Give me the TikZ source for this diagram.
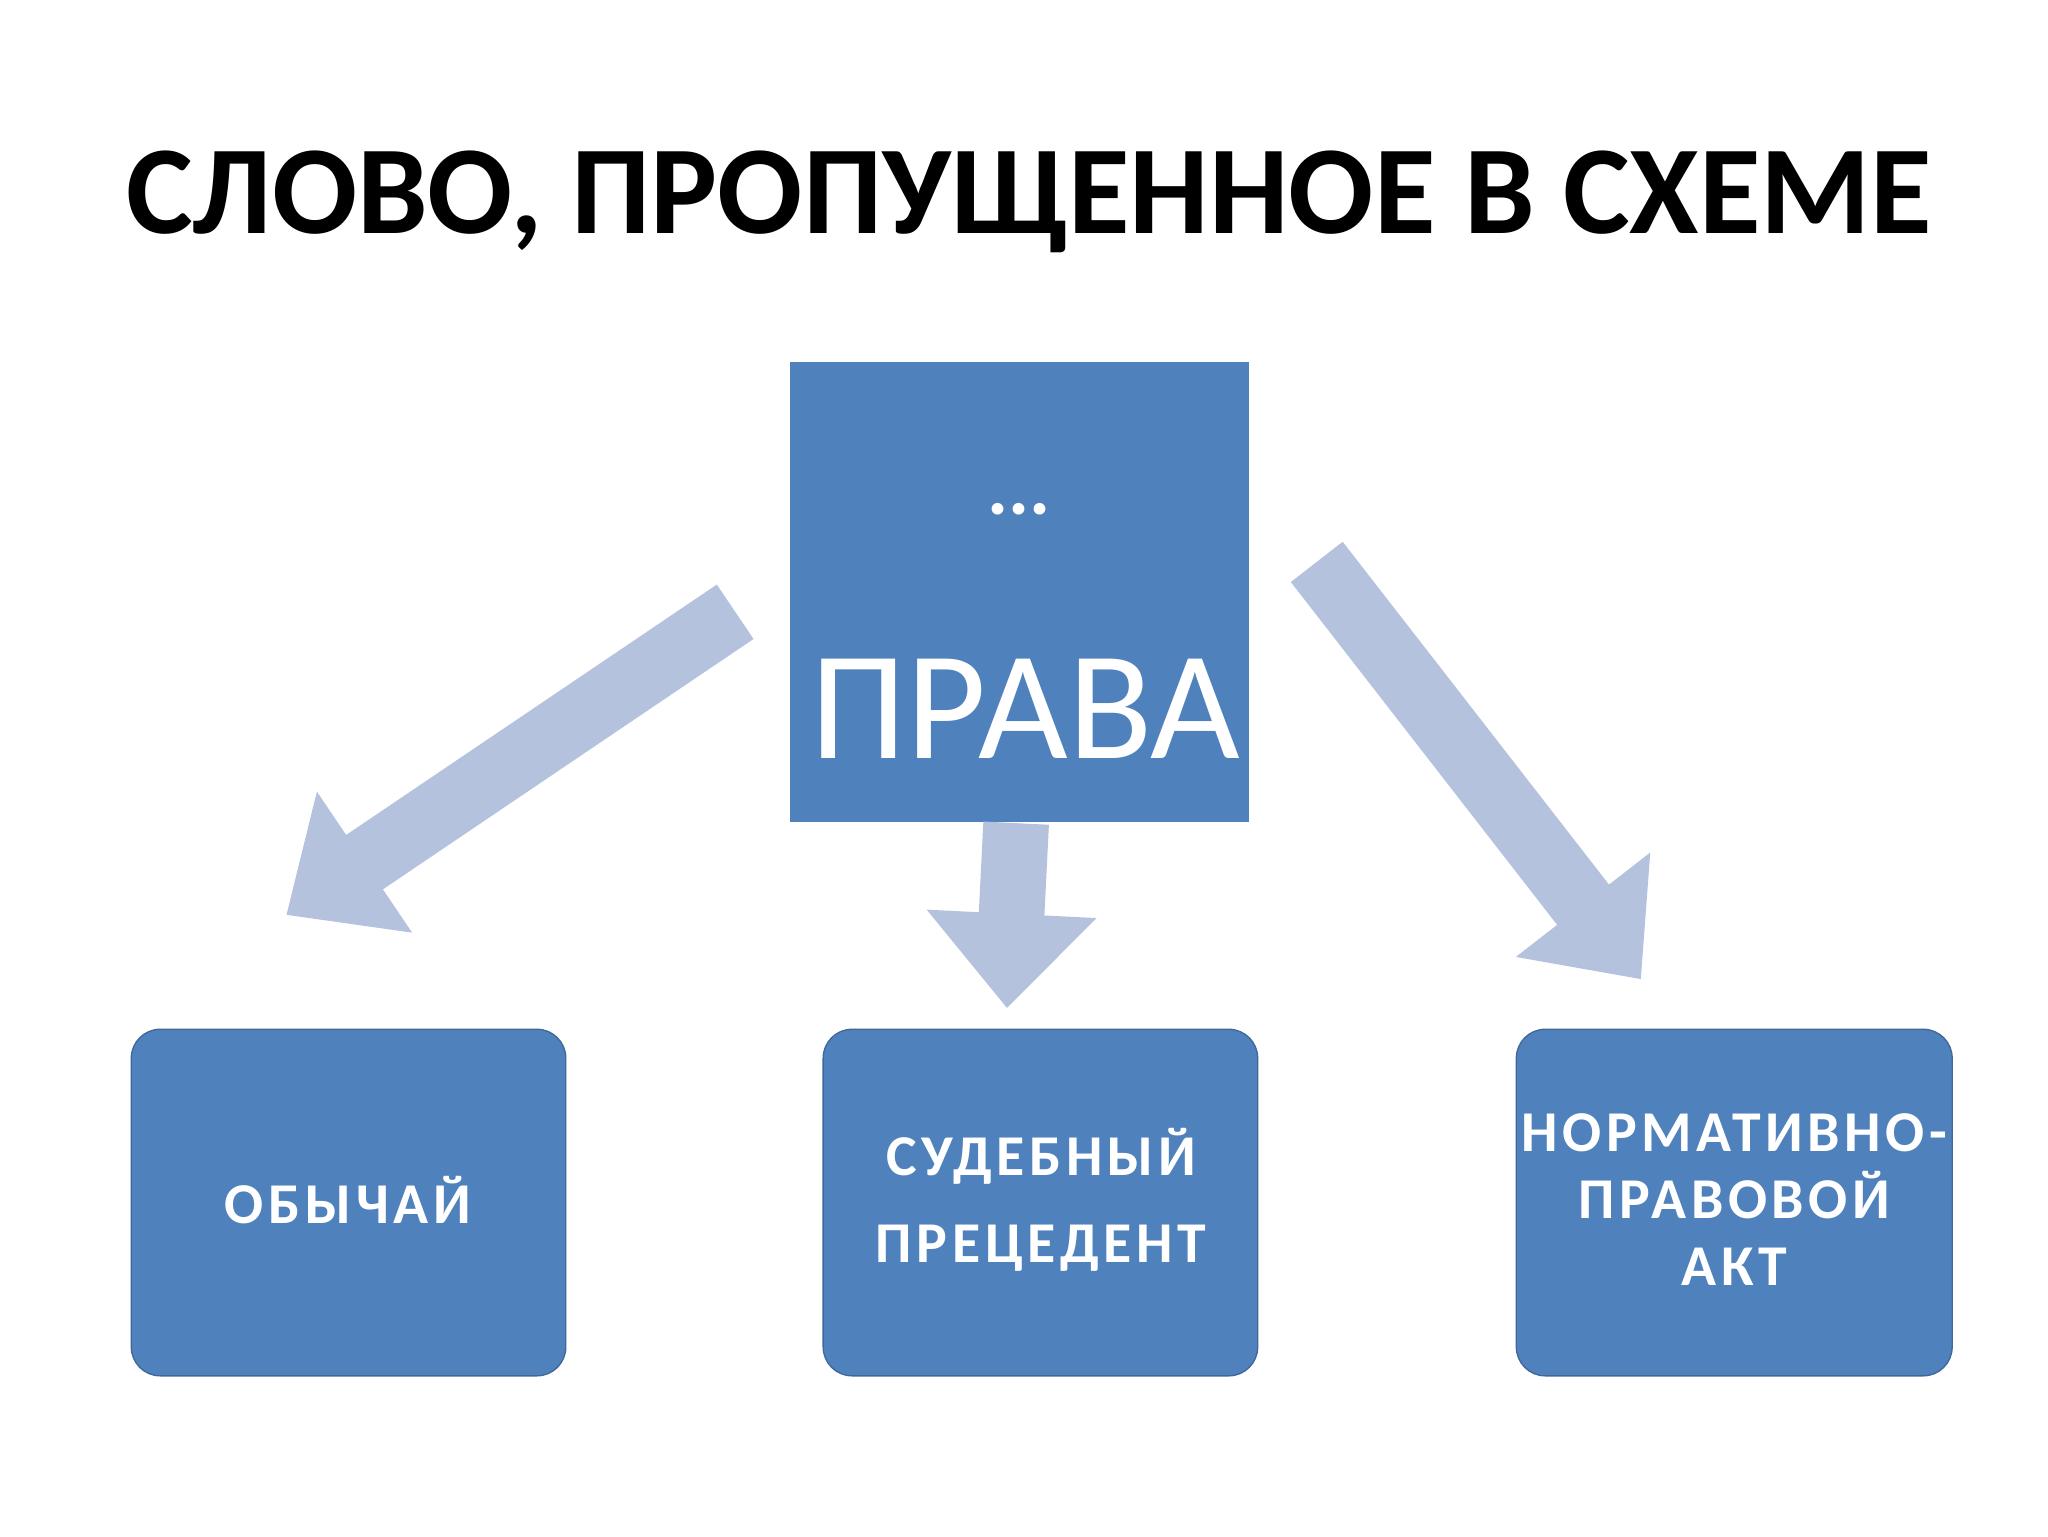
\documentclass[tikz,border=0pt]{standalone}
\usepackage{fontspec}
\setmainfont{Carlito}
\newfontfamily\spaced[LetterSpace=8]{Carlito}
\usetikzlibrary{arrows.meta}
\definecolor{boxblue}{RGB}{79,129,189}
\definecolor{arrowblue}{RGB}{180,194,222}
\tikzset{
  bigarrow/.style={draw=arrowblue,line width=50pt,-{Triangle[width=125pt,length=72pt]}},
  lowbox/.style={fill=boxblue,draw=boxblue!80!black,line width=1pt,rounded corners=22pt},
  boxtext/.style={text=white,font=\spaced\bfseries\fontsize{44}{66}\selectfont,align=center}
}
\begin{document}
\begin{tikzpicture}[x=1pt,y=-1pt]
\fill[white] (0,0) rectangle (1560,1170);
\useasboundingbox (0,0) rectangle (1560,1170);
\node[font=\bfseries\fontsize{96}{100}\selectfont,anchor=base] (title) at (784,178) {СЛОВО, ПРОПУЩЕННОЕ В СХЕМЕ};
\fill[boxblue] (602,276) rectangle (951,626);
\node (top) at (776,451) {};
\node[text=white,font=\bfseries\fontsize{60}{60}\selectfont,anchor=base] (dots) at (776,392) {...};
\node[text=white,font=\fontsize{118}{118}\selectfont,anchor=base] (prava) at (781,578) {ПРАВА};
\draw[lowbox] (100,784) rectangle (431,1048);
\draw[lowbox] (627,784) rectangle (958,1048);
\draw[lowbox] (1155,784) rectangle (1487,1048);
\node[boxtext] (b1) at (265,914) {ОБЫЧАЙ};
\node[boxtext] (b2) at (793,914) {СУДЕБНЫЙ\\ПРЕЦЕДЕНТ};
\node[boxtext,font=\spaced\bfseries\fontsize{44}{51}\selectfont] (b3) at (1321,914) {НОРМАТИВНО-\\ПРАВОВОЙ\\АКТ};
\coordinate (l1) at (560,466); \coordinate (l2) at (218,697);
\coordinate (m1) at (774,627); \coordinate (m2) at (767,768);
\coordinate (r1) at (1003,428); \coordinate (r2) at (1250,746);
\draw[bigarrow] (l1) -- (l2);
\draw[bigarrow] (m1) -- (m2);
\draw[bigarrow] (r1) -- (r2);
\end{tikzpicture}
\end{document}
